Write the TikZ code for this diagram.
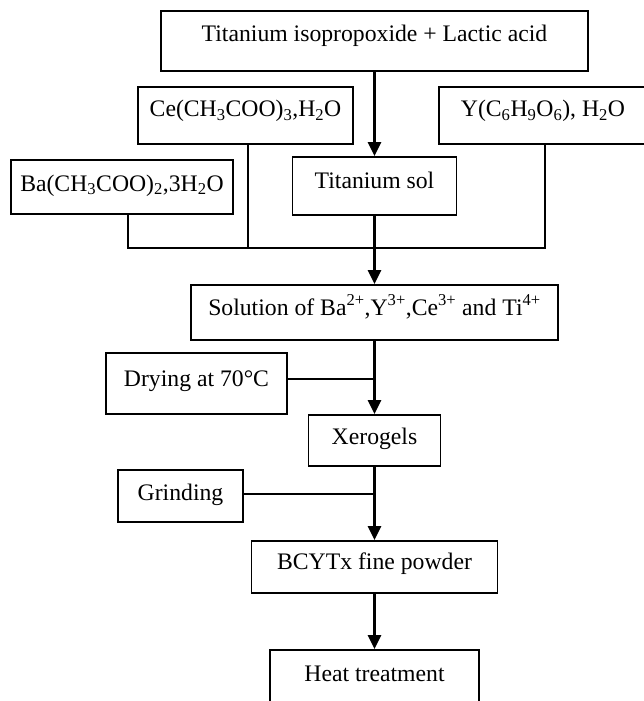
\documentclass[tikz,border=0pt]{standalone}
\usepackage{fontspec}
\setmainfont{Liberation Serif}
\usetikzlibrary{positioning,arrows.meta}

\begin{document}
\begin{tikzpicture}[
  x=1pt,y=-1pt,
  box/.style={draw,line width=1.8pt,inner sep=0pt,
              font=\fontsize{23.7}{28}\selectfont,text height=17pt,text depth=12pt},
  arr/.style={-{Triangle[length=14pt,width=13pt]},line width=2.7pt},
  trunk/.style={line width=2.7pt},
  feed/.style={line width=1.8pt},
  side/.style={line width=1.4pt},
]
\useasboundingbox (0,0) rectangle (644,701);
\clip (0,0) rectangle (644,701);

% Precursors
\node[box,minimum width=427pt,minimum height=60pt,text depth=15pt] (tip) at (374.5,41)
  {Titanium isopropoxide + Lactic acid};
\node[box,minimum width=215pt,minimum height=57pt,text depth=15pt] (ce) at (245.5,115.5)
  {Ce(CH\textsubscript{3}COO)\textsubscript{3},H\textsubscript{2}O};
\node[box,minimum width=208pt,minimum height=57pt,text depth=15pt] (yl) at (543,115.5)
  {Y(C\textsubscript{6}H\textsubscript{9}O\textsubscript{6}), H\textsubscript{2}O};
\node[box,minimum width=222pt,minimum height=54pt,text depth=9pt] (ba) at (122,187)
  {Ba(CH\textsubscript{3}COO)\textsubscript{2},3H\textsubscript{2}O};
\node[box,minimum width=164pt,minimum height=58pt] (tisol) at (374.5,186) {Titanium sol};

% Main line
\node[box,minimum width=367pt,minimum height=55pt] (sol) at (374.5,312.5)
  {Solution of Ba\textsuperscript{2+},Y\textsuperscript{3+},Ce\textsuperscript{3+} and Ti\textsuperscript{4+}};
\node[box,minimum width=181pt,minimum height=61pt] (dry) at (196.5,383.5) {Drying at 70°C};
\node[box,minimum width=132pt,minimum height=51pt,text depth=9pt] (xero) at (374.5,440.5) {Xerogels};
\node[box,minimum width=125pt,minimum height=52pt,text depth=9pt] (grind) at (180.5,496) {Grinding};
\node[box,minimum width=246pt,minimum height=52pt] (bcyt) at (374.5,567) {BCYTx fine powder};
\node[box,minimum width=209pt,minimum height=58pt] (heat) at (374.5,679) {Heat treatment};

% Connectors
\coordinate (junc) at (374.5,248);
\draw[arr] (tip) -- (tisol);
\draw[feed] ([xshift=6pt]ba.south) -- ([xshift=6pt]ba.south |- junc)
  -- ([xshift=2pt]yl.south |- junc) -- ([xshift=2pt]yl.south);
\draw[feed] ([xshift=2.5pt]ce.south) -- ([xshift=2.5pt]ce.south |- junc);
\draw[trunk] (tisol) -- (junc);
\draw[arr] (junc) -- (sol);
\draw[arr] (sol) -- (xero);
\draw[side] ([yshift=4.5pt]dry.east) -- ([yshift=4.5pt]dry.east -| sol.south);
\draw[arr] (xero) -- (bcyt);
\draw[side] ([yshift=2pt]grind.east) -- ([yshift=2pt]grind.east -| xero.south);
\draw[arr] (bcyt) -- (heat);

\end{tikzpicture}
\end{document}
